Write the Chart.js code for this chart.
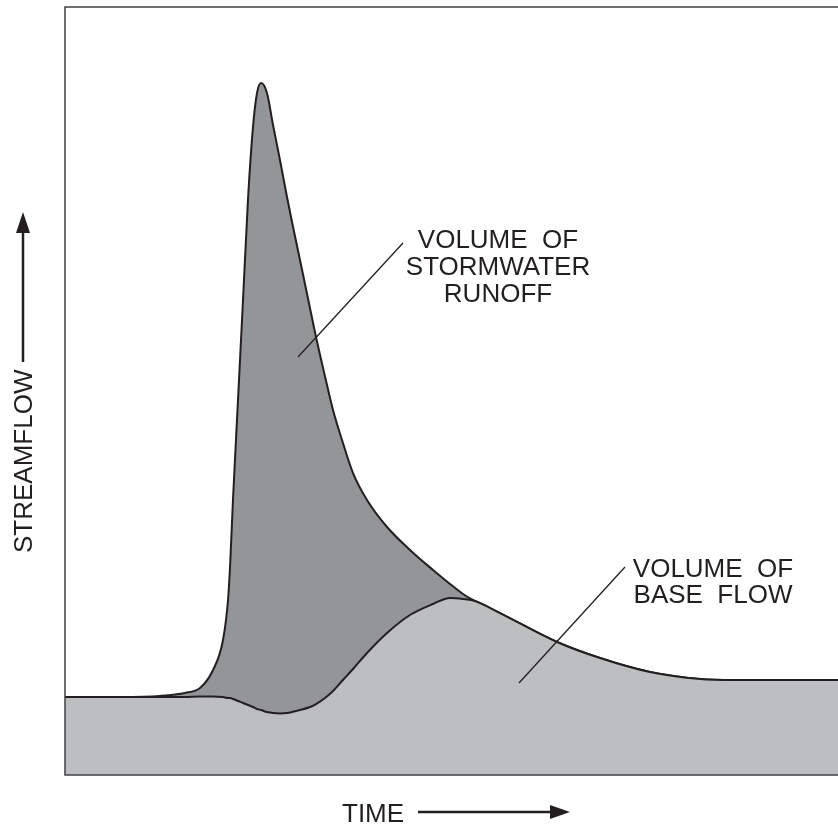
<!DOCTYPE html>
<html>
<head>
<meta charset="utf-8">
<script src="https://cdn.jsdelivr.net/npm/chart.js@4/dist/chart.umd.min.js"></script>
<style>
    html, body { margin: 0; padding: 0; background: #ffffff; }
    canvas { display: block; }
</style>
</head>
<body>
<canvas id="hydrograph" width="838" height="829"></canvas>
<script>
// Time (arbitrary units, 0-100 across the plot)
const timeValues = [
    0, 7.12, 12.29, 15.52, 17.46, 19.15, 20.44, 21.09, 21.35, 21.73,
    22.38, 23.03, 23.67, 24.32, 24.84, 25.36, 26.13, 26.91, 27.81, 28.72,
    29.37, 30.40, 31.69, 32.47, 33.64, 34.67, 35.96, 37.26, 39.07, 41.66,
    44.63, 47.61, 49.81, 51.49, 53.04, 56.27, 63.65, 69.21, 75.68, 82.15,
    86.42, 100
];

// Base flow (lower curve)
const baseFlow = [
    10.16, 10.16, 10.16, 10.16, 10.22, 10.22, 10.16, 10.03, 10.03, 9.90,
    9.64, 9.38, 9.11, 8.85, 8.59, 8.46, 8.20, 8.07, 8.01, 8.07,
    8.20, 8.46, 8.85, 9.24, 10.03, 10.94, 12.37, 13.80, 15.89, 18.49,
    20.83, 22.27, 23.05, 22.92, 22.66, 21.09, 17.32, 15.23, 13.41, 12.50,
    12.37, 12.37
];

// Total streamflow (base flow + stormwater runoff)
const totalFlow = [
    10.16, 10.16, 10.29, 10.68, 11.33, 13.67, 17.58, 22.79, 27.08, 35.81,
    48.83, 61.85, 74.87, 84.38, 88.80, 90.10, 88.80, 84.64, 80.08, 75.26,
    72.01, 67.06, 60.81, 57.03, 51.89, 47.53, 43.23, 39.32, 35.81, 32.29,
    29.30, 26.69, 24.87, 23.57, 22.66, 21.09, 17.32, 15.23, 13.41, 12.50,
    12.37, 12.37
];

const INK = '#231f20';
const FONT = '26px "Liberation Sans", Arial, sans-serif';

// Frame, axis labels with arrows, and area labels
const annotations = {
    id: 'annotations',
    afterDraw(chart) {
        const ctx = chart.ctx;
        const area = chart.chartArea;
        ctx.save();

        // plot frame: left, top, bottom (right side runs off the page)
        ctx.strokeStyle = '#414042';
        ctx.lineWidth = 1.5;
        ctx.beginPath();
        ctx.moveTo(area.right, area.top);
        ctx.lineTo(area.left, area.top);
        ctx.lineTo(area.left, area.bottom);
        ctx.lineTo(area.right, area.bottom);
        ctx.stroke();

        ctx.fillStyle = INK;
        ctx.strokeStyle = INK;
        ctx.font = FONT;

        // area labels
        ctx.textAlign = 'center';
        ctx.textBaseline = 'alphabetic';
        ctx.fillText('VOLUME  OF', 498, 248);
        ctx.fillText('STORMWATER', 498, 275);
        ctx.fillText('RUNOFF', 498, 302);
        ctx.fillText('VOLUME  OF', 713, 577);
        ctx.fillText('BASE  FLOW', 713, 603);

        // leader lines
        ctx.lineWidth = 1.3;
        ctx.beginPath();
        ctx.moveTo(403, 243);
        ctx.lineTo(298, 357);
        ctx.moveTo(625, 567);
        ctx.lineTo(519, 683);
        ctx.stroke();

        // x label with arrow
        ctx.textAlign = 'left';
        ctx.fillText('TIME', 342, 822);
        ctx.lineWidth = 2.5;
        ctx.beginPath();
        ctx.moveTo(418, 812);
        ctx.lineTo(553, 812);
        ctx.stroke();
        ctx.beginPath();
        ctx.moveTo(570, 812);
        ctx.lineTo(550, 805);
        ctx.lineTo(550, 819);
        ctx.closePath();
        ctx.fill();

        // y label with arrow
        ctx.save();
        ctx.translate(32, 553);
        ctx.rotate(-Math.PI / 2);
        ctx.fillText('STREAMFLOW', 0, 0);
        ctx.restore();
        ctx.beginPath();
        ctx.moveTo(23, 362);
        ctx.lineTo(23, 230);
        ctx.stroke();
        ctx.beginPath();
        ctx.moveTo(23, 212);
        ctx.lineTo(16, 233);
        ctx.lineTo(30, 233);
        ctx.closePath();
        ctx.fill();

        ctx.restore();
    }
};

const ctx = document.getElementById('hydrograph').getContext('2d');

new Chart(ctx, {
    type: 'line',
    data: {
        datasets: [
            {
                label: 'Base flow',
                data: timeValues.map((t, i) => ({ x: t, y: baseFlow[i] })),
                borderColor: INK,
                borderWidth: 2,
                backgroundColor: '#bcbec0',
                fill: 'origin',
                pointRadius: 0,
                cubicInterpolationMode: 'monotone'
            },
            {
                label: 'Stormwater runoff',
                data: timeValues.map((t, i) => ({ x: t, y: totalFlow[i] })),
                borderColor: INK,
                borderWidth: 2,
                backgroundColor: '#939598',
                fill: '-1',
                pointRadius: 0,
                cubicInterpolationMode: 'monotone'
            }
        ]
    },
    options: {
        responsive: false,
        animation: false,
        devicePixelRatio: 1,
        layout: {
            padding: { left: 65, top: 7, right: 0, bottom: 54 }
        },
        scales: {
            x: { type: 'linear', min: 0, max: 100, display: false },
            y: { type: 'linear', min: 0, max: 100, display: false }
        },
        plugins: {
            legend: { display: false },
            tooltip: { enabled: false }
        }
    },
    plugins: [annotations]
});
</script>
</body>
</html>
